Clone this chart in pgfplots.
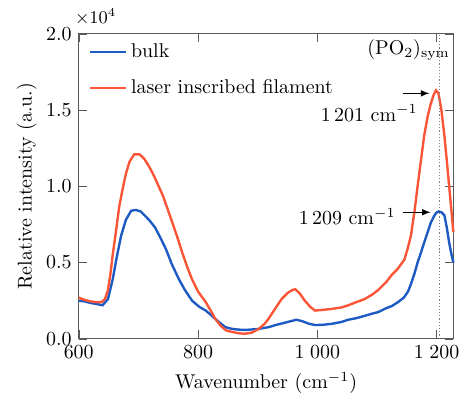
\documentclass[border=0pt]{standalone}
\usepackage{pgfplots}
\pgfplotsset{compat=1.18}
\definecolor{bulkblue}{RGB}{30,90,195}
\definecolor{filred}{RGB}{250,85,55}
\definecolor{framegray}{RGB}{90,90,90}
\begin{document}
\begin{tikzpicture}
\begin{axis}[
  scale only axis, width=188pt, height=153pt,
  xmin=600, xmax=1228, ymin=0, ymax=2.0,
  xtick={600,800,1000,1200}, ytick={0,0.5,1.0,1.5,2.0},
  tick align=inside, axis line style={framegray}, major tick style={framegray},
  x tick label style={/pgf/number format/1000 sep={\;}},
  y tick label style={/pgf/number format/fixed, /pgf/number format/fixed zerofill, /pgf/number format/precision=1},
  xlabel={Wavenumber (cm$^{-1}$)}, ylabel={Relative intensity (a.u.)},
  ylabel style={yshift=-2pt},
  legend style={draw=none, fill=none, at={(0.01,0.995)}, anchor=north west, row sep=5.5pt, font=\normalsize},
  legend cell align=left,
  legend image code/.code={\draw[#1, line width=1.2pt] (0pt,0pt) -- (18pt,0pt);},
  clip=false]
\addplot[bulkblue, line width=1.2pt] coordinates {
(600,0.25)(610,0.245)(620,0.235)(630,0.228)(640,0.22)(649,0.26)(657,0.39)(663,0.52)
(671,0.675)(679,0.78)(688,0.84)(696,0.845)(704,0.835)(713,0.80)
(720,0.77)(728,0.73)(736,0.67)(746,0.59)(756,0.49)(768,0.39)(778,0.32)(790,0.25)
(802,0.21)(813,0.185)(822,0.155)(829,0.13)(838,0.10)(846,0.076)(857,0.065)(868,0.06)
(880,0.058)(902,0.065)(918,0.076)(930,0.09)(940,0.10)(955,0.115)(965,0.125)(975,0.115)
(985,0.10)(996,0.09)(1010,0.092)(1024,0.098)(1040,0.11)(1052,0.125)(1065,0.135)
(1079,0.15)(1092,0.165)(1102,0.175)(1115,0.20)(1125,0.215)(1135,0.24)(1145,0.27)
(1152,0.31)(1157,0.36)(1163,0.43)(1168,0.50)(1174,0.57)(1179,0.63)(1185,0.70)
(1190,0.76)(1195,0.80)(1199,0.825)(1203,0.835)(1208,0.83)(1213,0.81)(1217,0.73)
(1221,0.63)(1225,0.55)(1228,0.50)};
\addplot[filred, line width=1.2pt] coordinates {
(600,0.27)(610,0.255)(620,0.245)(630,0.24)(638,0.24)(644,0.26)(649,0.32)(653,0.42)
(657,0.55)(663,0.72)(668,0.87)(674,0.99)(679,1.08)(685,1.16)(693,1.21)(702,1.21)(710,1.18)
(718,1.13)(726,1.07)(734,1.00)(741,0.94)(750,0.84)(758,0.75)(765,0.67)
(774,0.56)(782,0.47)(790,0.39)(800,0.31)(813,0.24)(822,0.18)(829,0.13)(838,0.085)
(847,0.055)(857,0.045)(869,0.036)(879,0.033)(890,0.04)(902,0.065)(912,0.10)(918,0.13)
(928,0.19)(940,0.26)(950,0.30)(958,0.32)(963,0.325)(970,0.30)(979,0.25)(988,0.21)
(996,0.185)(1010,0.19)(1024,0.196)(1040,0.205)(1052,0.22)(1065,0.24)(1079,0.26)
(1092,0.29)(1102,0.32)(1115,0.37)(1125,0.42)(1135,0.46)(1146,0.52)(1152,0.60)
(1157,0.68)(1163,0.84)(1168,1.00)(1174,1.18)(1179,1.33)(1185,1.46)(1190,1.54)
(1195,1.60)(1199,1.63)(1203,1.61)(1208,1.50)(1213,1.33)(1217,1.17)(1221,1.00)
(1225,0.83)(1228,0.70)};
\addplot[forget plot, gray, densely dotted, line width=0.6pt] coordinates {(1205,0) (1205,2.0)};
\legend{bulk, laser inscribed filament}
\node[anchor=south west, inner sep=0pt, font=\small] at ([xshift=-2pt,yshift=4pt]rel axis cs:0,1) {$\times 10^{4}$};
\node[anchor=north east, inner sep=1pt] at (axis cs:1226,1.98) {(PO$_2$)$_{\mathrm{sym}}$};
\draw[-latex, black, line width=0.5pt] (axis cs:1143,1.61) -- (axis cs:1188,1.61);
\node[anchor=east, inner sep=1pt] at (axis cs:1172,1.48) {1\,201 cm$^{-1}$};
\draw[-latex, black, line width=0.5pt] (axis cs:1143,0.83) -- (axis cs:1190,0.83);
\node[anchor=east, inner sep=1pt] at (axis cs:1135,0.80) {1\,209 cm$^{-1}$};
\end{axis}
\path (current axis.north west) ++(-39.5pt,17pt) coordinate (padtl);
\path (current axis.south east) ++(5pt,-30pt) coordinate (padbr);
\end{tikzpicture}
\end{document}
